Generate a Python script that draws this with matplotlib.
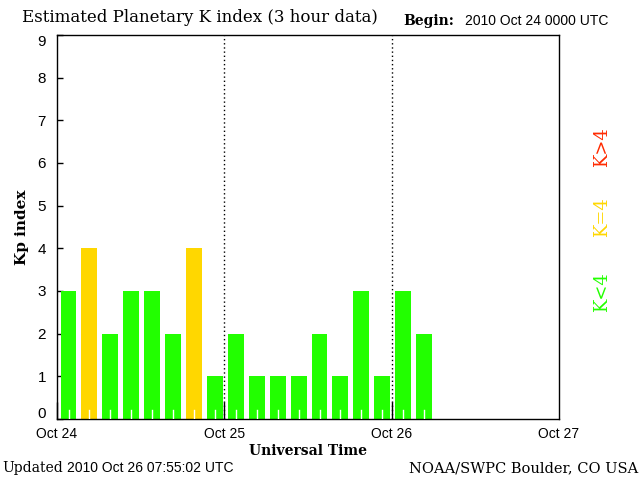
import matplotlib
matplotlib.use("Agg")
import matplotlib.pyplot as plt
import matplotlib.transforms as mtransforms
import numpy as np

kp_values = [3, 4, 2, 3, 3, 2, 4, 1,
             2, 1, 1, 1, 2, 1, 3, 1,
             3, 2]
day_labels = ["Oct 24", "Oct 25", "Oct 26", "Oct 27"]
y_ticks = list(range(0, 10))

GREEN = "#22ff00"
YELLOW = "#ffd700"
RED = "#ff2a00"

def color_for(k):
    if k < 4:
        return GREEN
    if k == 4:
        return YELLOW
    return RED

fig = plt.figure(figsize=(6.4, 4.8), dpi=100)
ax = fig.add_axes([57/640, 61/480, 502/640, 384/480])

x = (np.arange(len(kp_values)) + 0.55) / 8.0
colors = [color_for(k) for k in kp_values]
ax.bar(x, kp_values, width=0.76/8, color=colors, linewidth=0, zorder=2)

# white small ticks inside bars at bar centers
for xi in x:
    ax.plot([xi, xi], [0, 0.2], color="white", lw=1, zorder=3)

ax.set_xlim(0, 3)
ax.set_ylim(0, 9)
ax.set_xticks([0, 1, 2])
ax.set_xticklabels(day_labels[:3], family="Liberation Sans", fontsize=10)
ax.text(3, -0.0, day_labels[3], transform=ax.transData, family="Liberation Sans",
        fontsize=10, ha="center", va="top")
ax.texts[-1].set_transform(ax.transData + mtransforms.ScaledTranslation(0, -8/100, fig.dpi_scale_trans))
ax.set_yticks(y_ticks)
ax.set_yticklabels([str(v) for v in y_ticks], family="Liberation Sans", fontsize=11)
ax.tick_params(axis="x", direction="in", length=12, width=1, pad=6)
ax.tick_params(axis="y", direction="in", length=4, width=1, pad=8)
ylabels = ax.get_yticklabels()
ylabels[0].set_transform(ylabels[0].get_transform() + mtransforms.ScaledTranslation(0, 6/100, fig.dpi_scale_trans))
ylabels[-1].set_transform(ylabels[-1].get_transform() + mtransforms.ScaledTranslation(0, -5/100, fig.dpi_scale_trans))

for d in [1, 2]:
    ax.axvline(d, color="black", lw=1, linestyle=(0, (1, 2)), zorder=1)

for s in ax.spines.values():
    s.set_linewidth(1)

ax.set_xlabel("Universal Time", family="DejaVu Serif", fontweight="bold", fontsize=10, labelpad=2)
ax.set_ylabel("Kp index", family="DejaVu Serif", fontweight="bold", fontsize=11, labelpad=6)

fig.text(22/640, 1 - 18/480, "Estimated Planetary K index (3 hour data)",
         family="DejaVu Serif", fontsize=12, va="center", ha="left")
fig.text(403/640, 1 - 21/480, "Begin:", family="DejaVu Serif", fontweight="bold",
         fontsize=10, va="center", ha="left")
fig.text(465/640, 1 - 21/480, "2010 Oct 24 0000 UTC", family="Liberation Sans",
         fontsize=10, va="center", ha="left")
fig.text(2/640, 1 - 468/480, "Updated", family="DejaVu Serif", fontsize=10,
         va="center", ha="left")
fig.text(67/640, 1 - 468/480, "2010 Oct 26 07:55:02 UTC", family="Liberation Sans",
         fontsize=10, va="center", ha="left")
fig.text(638/640, 1 - 468/480, "NOAA/SWPC Boulder, CO USA", family="DejaVu Serif",
         fontsize=10.5, va="center", ha="right")

fig.text(602/640, 1 - 147/480, "K>4", color=RED, rotation=90, family="DejaVu Serif",
         fontsize=13, va="center", ha="center")
fig.text(602/640, 1 - 217/480, "K=4", color=YELLOW, rotation=90, family="DejaVu Serif",
         fontsize=13, va="center", ha="center")
fig.text(602/640, 1 - 292/480, "K<4", color=GREEN, rotation=90, family="DejaVu Serif",
         fontsize=13, va="center", ha="center")

fig.savefig("out.png", dpi=100)
